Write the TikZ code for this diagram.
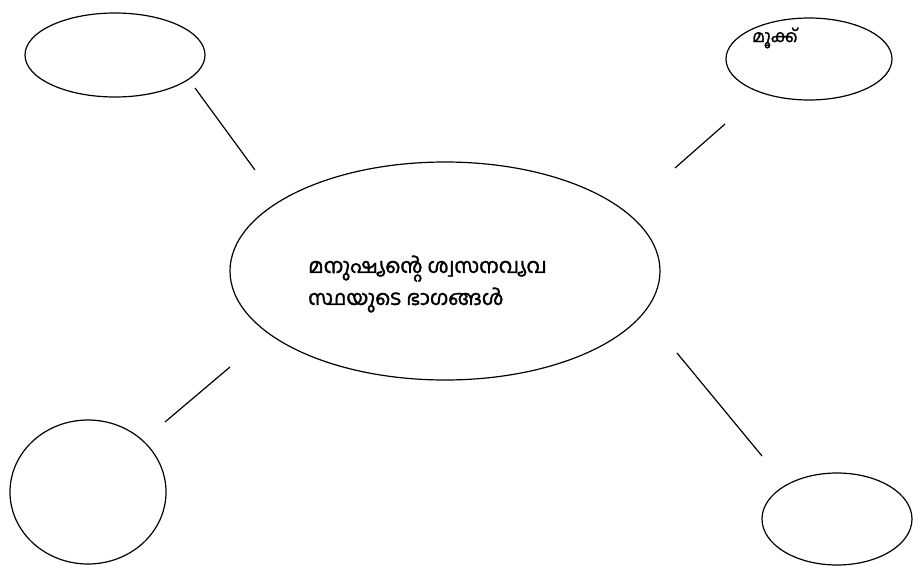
\documentclass[tikz,border=0pt]{standalone}
\usepackage{fontspec}
\newfontfamily\mlfont[Script=Malayalam,FakeBold=1.6]{Hind Kochi}
\begin{document}
\begin{tikzpicture}[x=1pt,y=-1pt,
  link/.style={draw=black,line width=1.2pt},
  lbl/.style={font=\mlfont\fontsize{20.5}{32}\selectfont,align=left,inner sep=0pt}]
\useasboundingbox (0,0) rectangle (913,565);
\draw[link] (115,55) ellipse [x radius=90,y radius=42];
\draw[link] (809,59) ellipse [x radius=83,y radius=41];
\draw[link] (445,271) ellipse [x radius=215,y radius=109];
\draw[link] (88,492) ellipse [x radius=78,y radius=72];
\draw[link] (837,519) ellipse [x radius=75,y radius=46];
\node[lbl,anchor=west] (nose) at (752,38) {\fontsize{17}{18}\selectfont മൂക്ക്};
\node[lbl,anchor=west] (title) at (308,284) {മനുഷ്യന്റെ ശ്വസനവ്യവ\\സ്ഥയുടെ ഭാഗങ്ങൾ};
\coordinate (a1) at (195,88); \coordinate (a2) at (255,170);
\coordinate (b1) at (725,124); \coordinate (b2) at (675,168);
\coordinate (c1) at (230,367); \coordinate (c2) at (165,422);
\coordinate (d1) at (677,353); \coordinate (d2) at (762,456);
\draw[link] (a1) -- (a2);
\draw[link] (b1) -- (b2);
\draw[link] (c1) -- (c2);
\draw[link] (d1) -- (d2);
\end{tikzpicture}
\end{document}
